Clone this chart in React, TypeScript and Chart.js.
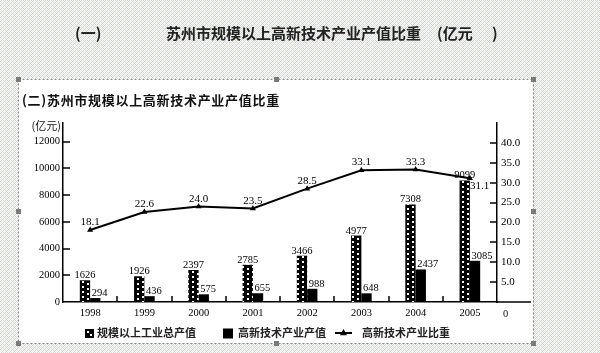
import React, { useEffect, useRef } from 'react';
import { Chart, registerables } from 'chart.js';

Chart.register(...registerables);

// ---- data ----
const years = ['1998', '1999', '2000', '2001', '2002', '2003', '2004', '2005'];
const totalOutput = [1626, 1926, 2397, 2785, 3466, 4977, 7308, 9099];
const hiTechOutput = [294, 436, 575, 655, 988, 648, 2437, 3085];
const hiTechShare = [18.1, 22.6, 24.0, 23.5, 28.5, 33.1, 33.3, 31.1];
const leftTicks = [0, 2000, 4000, 6000, 8000, 10000, 12000];
const rightTicks = [5, 10, 15, 20, 25, 30, 35, 40];
const seriesLabels = ['规模以上工业总产值', '高新技术产业产值', '高新技术产业比重'];
const pageTitle = '苏州市规模以上高新技术产业产值比重';
const chartTitle = '(二)苏州市规模以上高新技术产业产值比重';
const leftUnit = '(亿元)';

const SERIF = '"Liberation Serif", "DejaVu Serif", serif';
const CJK = '"Noto Sans CJK SC", sans-serif';

function makeDotPattern(ctx: CanvasRenderingContext2D) {
  const c = document.createElement('canvas');
  c.width = 10;
  c.height = 10;
  const g = c.getContext('2d')!;
  g.fillStyle = '#000';
  g.fillRect(0, 0, 10, 10);
  g.fillStyle = '#fff';
  g.fillRect(2, 1, 2, 2);
  g.fillRect(7, 3, 2, 2);
  g.fillRect(2, 6, 2, 2);
  g.fillRect(7, 8, 2, 2);
  return ctx.createPattern(c, 'repeat')!;
}

function makeBgPattern(ctx: CanvasRenderingContext2D) {
  const c = document.createElement('canvas');
  c.width = 4;
  c.height = 4;
  const g = c.getContext('2d')!;
  const W = '#fbfbfb', P = '#eec4e6', G = '#c4ecc4', B = '#c8d4f2', Y = '#eeeec0';
  const grid = [
    [W, P, W, G],
    [B, W, Y, W],
    [W, G, W, P],
    [Y, W, B, W],
  ];
  for (let r = 0; r < 4; r++)
    for (let q = 0; q < 4; q++) {
      g.fillStyle = grid[r][q];
      g.fillRect(q, r, 1, 1);
    }
  return ctx.createPattern(c, 'repeat')!;
}

export default function App() {
  const ref = useRef<HTMLCanvasElement>(null);

  useEffect(() => {
    document.body.style.margin = '0';
    const canvas = ref.current!;
    const ctx0 = canvas.getContext('2d')!;
    const dots = makeDotPattern(ctx0);
    const bg = makeBgPattern(ctx0);

    const line = (ctx: CanvasRenderingContext2D, x1: number, y1: number, x2: number, y2: number) => {
      ctx.beginPath();
      ctx.moveTo(x1, y1);
      ctx.lineTo(x2, y2);
      ctx.stroke();
    };
    const tri = (ctx: CanvasRenderingContext2D, x: number, y: number, r: number) => {
      ctx.beginPath();
      ctx.moveTo(x, y - r);
      ctx.lineTo(x + r, y + r * 0.8);
      ctx.lineTo(x - r, y + r * 0.8);
      ctx.closePath();
      ctx.fill();
    };

    const deco = {
      id: 'deco',
      beforeDraw(chart: any) {
        const ctx: CanvasRenderingContext2D = chart.ctx;
        ctx.save();
        ctx.fillStyle = bg;
        ctx.fillRect(0, 0, chart.width, chart.height);
        // white frame
        ctx.fillStyle = '#fff';
        ctx.fillRect(18, 79, 515, 264);
        ctx.strokeStyle = '#8a8a8a';
        ctx.lineWidth = 1;
        ctx.setLineDash([2, 2]);
        ctx.strokeRect(18.5, 79.5, 515, 264);
        ctx.setLineDash([]);
        ctx.fillStyle = '#7a7a7a';
        const hs = [[18, 79], [276, 79], [533, 79], [18, 211], [533, 211], [18, 343], [276, 343], [533, 343]];
        hs.forEach(([x, y]) => ctx.fillRect(x - 2, y - 2, 5, 5));
        // page title
        ctx.fillStyle = '#222';
        ctx.font = `bold 15px ${CJK}`;
        ctx.textBaseline = 'middle';
        ctx.textAlign = 'left';
        ctx.fillText('(一)', 75, 33);
        ctx.fillText(pageTitle, 166, 33);
        ctx.fillText('(亿元', 437, 33);
        ctx.fillText(')', 492, 33);
        // chart title
        ctx.fillStyle = '#111';
        ctx.font = `bold 13px ${CJK}`;
        (ctx as any).letterSpacing = '0.7px';
        ctx.fillText(chartTitle, 22, 100);
        (ctx as any).letterSpacing = '0px';
        ctx.restore();
      },
      afterDraw(chart: any) {
        const ctx: CanvasRenderingContext2D = chart.ctx;
        const ca = chart.chartArea;
        const { x, y, y1 } = chart.scales;
        ctx.save();
        ctx.strokeStyle = '#000';
        ctx.lineWidth = 1.5;
        // inward ticks, left axis
        y.ticks.forEach((t: any) => {
          if (t.value > 0) {
            const py = Math.round(y.getPixelForValue(t.value));
            line(ctx, ca.left, py, ca.left + 7, py);
          }
        });
        // inward ticks, right axis
        y1.ticks.forEach((t: any) => {
          if (t.value > 0) {
            const py = Math.round(y1.getPixelForValue(t.value));
            line(ctx, ca.right - 7, py, ca.right, py);
          }
        });
        // category boundary ticks
        for (let i = 0; i < years.length - 1; i++) {
          const px = Math.round((x.getPixelForValue(i) + x.getPixelForValue(i + 1)) / 2);
          line(ctx, px, ca.bottom, px, ca.bottom - 6);
        }
        // x axis extension past right axis
        line(ctx, ca.right, ca.bottom, 531, ca.bottom);

        // unit label and right-axis zero
        ctx.fillStyle = '#111';
        ctx.textBaseline = 'middle';
        ctx.textAlign = 'right';
        ctx.font = `11px ${CJK}`;
        ctx.fillText(leftUnit, 61, 126);
        ctx.font = `10.5px ${SERIF}`;
        ctx.textAlign = 'left';
        ctx.fillText('0', ca.right + 6, ca.bottom + 12);

        // bar labels
        ctx.fillStyle = '#000';
        ctx.font = `10.5px ${SERIF}`;
        ctx.textBaseline = 'alphabetic';
        const mTotal = chart.getDatasetMeta(1);
        mTotal.data.forEach((el: any, i: number) => {
          ctx.textAlign = 'center';
          ctx.fillText(String(totalOutput[i]), el.x, el.y - 2);
        });
        const mHi = chart.getDatasetMeta(2);
        mHi.data.forEach((el: any, i: number) => {
          ctx.textAlign = 'left';
          ctx.fillText(String(hiTechOutput[i]), el.x - el.width / 2 + 1.5, el.y - 2);
        });
        // line labels
        ctx.font = `11px ${SERIF}`;
        const mLine = chart.getDatasetMeta(0);
        mLine.data.forEach((el: any, i: number) => {
          const txt = hiTechShare[i].toFixed(1);
          if (i === years.length - 1) {
            ctx.textAlign = 'left';
            ctx.fillText(txt, el.x, el.y + 11);
          } else {
            ctx.textAlign = 'center';
            ctx.fillText(txt, el.x, el.y - 5);
          }
        });

        // legend
        const ly = 333;
        ctx.font = `bold 11px ${CJK}`;
        ctx.textBaseline = 'middle';
        ctx.textAlign = 'left';
        ctx.fillStyle = '#000';
        ctx.fillRect(85, ly - 4, 9, 9);
        ctx.fillStyle = '#fff';
        ctx.fillRect(87, ly - 2, 2, 2);
        ctx.fillRect(90, ly + 1, 2, 2);
        ctx.fillStyle = '#222';
        ctx.fillText(chart.data.datasets[1].label, 97, ly);
        ctx.fillStyle = '#000';
        ctx.fillRect(223, ly - 4.5, 10, 10);
        ctx.fillStyle = '#222';
        ctx.fillText(chart.data.datasets[2].label, 238, ly);
        ctx.strokeStyle = '#000';
        ctx.lineWidth = 2;
        line(ctx, 335, ly, 352, ly);
        ctx.fillStyle = '#000';
        tri(ctx, 343.5, ly - 0.5, 3.5);
        ctx.fillStyle = '#222';
        ctx.fillText(chart.data.datasets[0].label, 362, ly);
        ctx.restore();
      },
    };

    const chart = new Chart(canvas, {
      type: 'bar',
      data: {
        labels: years,
        datasets: [
          {
            type: 'line',
            label: seriesLabels[2],
            data: hiTechShare,
            yAxisID: 'y1',
            borderColor: '#000',
            backgroundColor: '#000',
            borderWidth: 2,
            pointStyle: 'triangle',
            pointRadius: 3.5,
            pointBorderWidth: 0,
            pointBackgroundColor: '#000',
            tension: 0,
            order: 0,
          } as any,
          {
            label: seriesLabels[0],
            data: totalOutput,
            yAxisID: 'y',
            backgroundColor: dots,
            borderWidth: 0,
            categoryPercentage: 0.38,
            barPercentage: 1,
            order: 1,
          },
          {
            label: seriesLabels[1],
            data: hiTechOutput,
            yAxisID: 'y',
            backgroundColor: '#000',
            borderWidth: 0,
            categoryPercentage: 0.38,
            barPercentage: 1,
            order: 2,
          },
        ],
      },
      options: {
        responsive: false,
        animation: false,
        devicePixelRatio: 1,
        layout: { padding: { top: 123, left: 0, right: 0, bottom: 0 } },
        plugins: {
          legend: { display: false },
          tooltip: { enabled: false },
          title: { display: false },
        },
        scales: {
          x: {
            grid: { display: false, drawTicks: false },
            border: { display: true, color: '#000', width: 1.5 },
            ticks: {
              color: '#000',
              font: { family: SERIF, size: 10.5 },
              padding: 5,
              maxRotation: 0,
              autoSkip: false,
            },
            afterFit: (s: any) => {
              s.height = 51;
            },
          },
          y: {
            position: 'left',
            min: 0,
            max: 13400,
            grid: { display: false, drawTicks: false },
            border: { display: true, color: '#000', width: 1.5 },
            afterBuildTicks: (s: any) => {
              s.ticks = leftTicks.map((v) => ({ value: v }));
            },
            ticks: {
              autoSkip: false,
              color: '#000',
              font: { family: SERIF, size: 10.5 },
              padding: 3,
              callback: (v: any) => String(v),
            },
            afterFit: (s: any) => {
              s.width = 63;
            },
          },
          y1: {
            position: 'right',
            min: 0,
            max: 45,
            grid: { display: false, drawTicks: false },
            border: { display: true, color: '#000', width: 1.5 },
            afterBuildTicks: (s: any) => {
              s.ticks = rightTicks.map((v) => ({ value: v }));
            },
            ticks: {
              autoSkip: false,
              color: '#000',
              font: { family: SERIF, size: 11 },
              padding: 4,
              callback: (v: any) => Number(v).toFixed(1),
            },
            afterFit: (s: any) => {
              s.width = 103;
            },
          },
        },
      },
      plugins: [deco],
    });

    return () => chart.destroy();
  }, []);

  return (
    <canvas
      ref={ref}
      width={600}
      height={353}
      style={{ display: 'block', position: 'absolute', left: 0, top: 0, width: 600, height: 353 }}
    />
  );
}
